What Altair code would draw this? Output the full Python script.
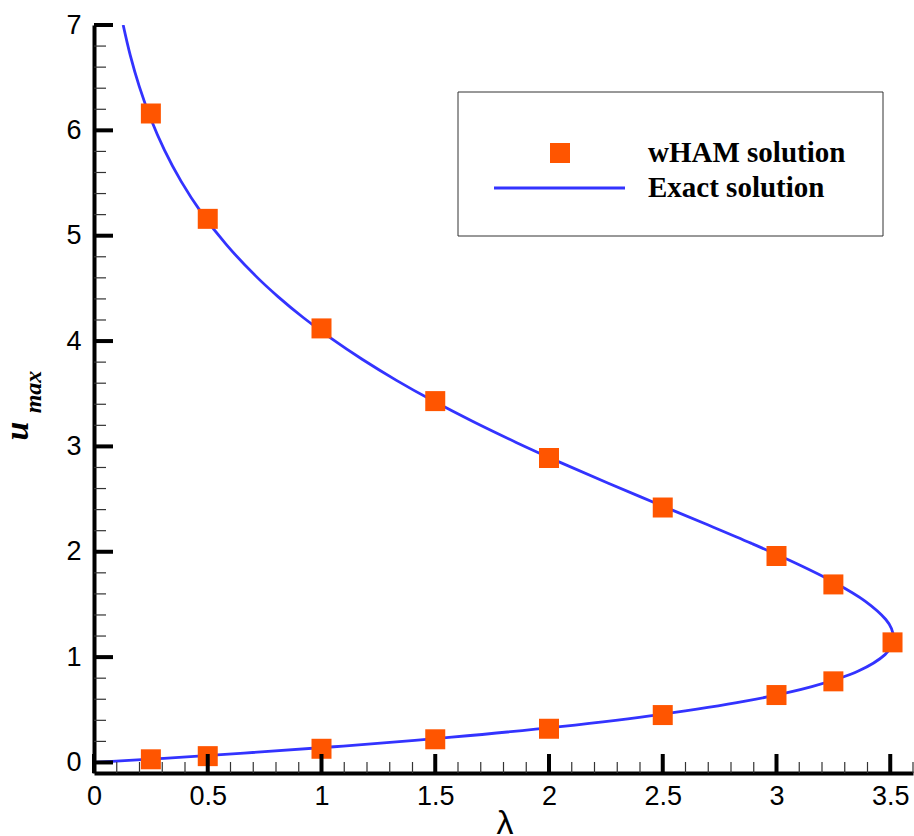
import altair as alt
import pandas as pd

# ---- data ----
# wHAM solution (squares)
wham_lambda = [0.25, 0.5, 1.0, 1.5, 2.0, 2.5, 3.0, 3.25, 3.51,
               3.25, 3.0, 2.5, 2.0, 1.5, 1.0, 0.5, 0.25]
wham_umax = [6.16, 5.16, 4.12, 3.43, 2.89, 2.42, 1.96, 1.69, 1.14,
             0.77, 0.64, 0.45, 0.32, 0.22, 0.13, 0.06, 0.03]

# Exact solution curve (lower branch -> turning point -> upper branch)
exact_lambda = [0.0, 0.0792, 0.3075, 0.6589, 1.0952, 1.5729, 2.0493, 2.4882,
                2.8624, 3.1552, 3.3598, 3.4771, 3.5049, 3.5138, 3.5052, 3.4805,
                3.3893, 3.2527, 3.0828, 2.8902, 2.6842, 2.4724, 2.2608, 2.0541,
                1.8557, 1.6679, 1.4922, 1.3296, 1.1803, 1.0442, 0.9209, 0.8099,
                0.7104, 0.5809, 0.4728, 0.3831, 0.3092, 0.2486, 0.1993, 0.1592,
                0.1282]
exact_umax = [0.0, 0.0100, 0.0397, 0.0887, 0.1559, 0.2402, 0.3403, 0.4545,
              0.5815, 0.7197, 0.8676, 1.0239, 1.1048, 1.1874, 1.2715, 1.3570,
              1.5318, 1.7109, 1.8936, 2.0793, 2.2676, 2.4580, 2.6500, 2.8435,
              3.0381, 3.2337, 3.4301, 3.6271, 3.8247, 4.0227, 4.2211, 4.4198,
              4.6187, 4.9174, 5.2164, 5.5157, 5.8152, 6.1148, 6.4146, 6.7143,
              7.0000]

# axis tick values
x_major = [0, 0.5, 1, 1.5, 2, 2.5, 3, 3.5]
x_minor = [round(i * 0.1, 1) for i in range(1, 37) if i % 5 != 0]
y_major = [0, 1, 2, 3, 4, 5, 6, 7]
y_minor = [round(i * 0.2, 1) for i in range(1, 35) if i % 5 != 0]

legend_labels = ["wHAM solution", "Exact solution"]

# ---- styling ----
W, H = 819, 748
ORANGE = "#FF5500"
BLUE = "#3333FF"

xscale = alt.Scale(domain=[0, 3.6], nice=False, zero=False)
yscale = alt.Scale(domain=[-0.1, 7], nice=False, zero=False)

xax = alt.Axis(values=x_major, format="~g", title=None, grid=False,
               ticks=False, tickSize=0, domainColor="black", domainWidth=4,
               labelFont="Liberation Sans", labelFontSize=27, labelColor="black",
               labelPadding=10, labelFlush=False, labelOverlap=False)
yax = alt.Axis(values=y_major, format="d", title=None, grid=False,
               ticks=False, tickSize=0, domainColor="black", domainWidth=4,
               labelFont="Liberation Sans", labelFontSize=27, labelColor="black",
               labelPadding=13, labelFlush=False, labelOverlap=False)

exact_df = pd.DataFrame({"lam": exact_lambda, "u": exact_umax,
                         "i": list(range(len(exact_lambda)))})
wham_df = pd.DataFrame({"lam": wham_lambda, "u": wham_umax})

X = alt.X("lam:Q", scale=xscale, axis=xax)
Y = alt.Y("u:Q", scale=yscale, axis=yax)

exact_line = alt.Chart(exact_df).mark_line(
    color=BLUE, strokeWidth=2.8, interpolate="catmull-rom", clip=True
).encode(x=X, y=Y, order="i:Q")

wham_pts = alt.Chart(wham_df).mark_square(
    size=400, color=ORANGE, opacity=1, filled=True
).encode(x=X, y=Y)

# inward ticks (drawn on top of the data, as in the reference)
xmaj = alt.Chart(pd.DataFrame({"lam": x_major})).mark_rule(
    color="black", strokeWidth=4
).encode(x=X, y=alt.value(H), y2=alt.value(H - 19))
xmin = alt.Chart(pd.DataFrame({"lam": x_minor})).mark_rule(
    color="#333333", strokeWidth=1.2
).encode(x=X, y=alt.value(H), y2=alt.value(H - 11))
ymaj = alt.Chart(pd.DataFrame({"u": y_major})).mark_rule(
    color="black", strokeWidth=4
).encode(y=Y, x=alt.value(0), x2=alt.value(19))
ymin = alt.Chart(pd.DataFrame({"u": y_minor})).mark_rule(
    color="#333333", strokeWidth=1.2
).encode(y=Y, x=alt.value(0), x2=alt.value(12))

# legend
one = pd.DataFrame({"d": [0]})
leg_box = alt.Chart(one).mark_rect(
    fill="white", stroke="#333333", strokeWidth=1
).encode(x=alt.value(364), x2=alt.value(789), y=alt.value(67), y2=alt.value(211))
leg_sq = alt.Chart(one).mark_square(size=400, color=ORANGE, opacity=1).encode(
    x=alt.value(466), y=alt.value(128))
leg_ln = alt.Chart(one).mark_rule(color=BLUE, strokeWidth=3).encode(
    x=alt.value(400), x2=alt.value(531), y=alt.value(163))
leg_t1 = alt.Chart(one).mark_text(
    text=legend_labels[0], font="Liberation Serif", fontWeight="bold",
    fontSize=29, align="left", baseline="middle", color="black"
).encode(x=alt.value(554), y=alt.value(128))
leg_t2 = alt.Chart(one).mark_text(
    text=legend_labels[1], font="Liberation Serif", fontWeight="bold",
    fontSize=29, align="left", baseline="middle", color="black"
).encode(x=alt.value(554), y=alt.value(163))

# axis titles
ytitle_u = alt.Chart(one).mark_text(
    text="u", font="Liberation Serif", fontWeight="bold", fontStyle="italic",
    fontSize=34, angle=270, align="center", baseline="alphabetic", color="black"
).encode(x=alt.value(-66), y=alt.value(406))
ytitle_sub = alt.Chart(one).mark_text(
    text="max", font="Liberation Serif", fontWeight="bold", fontStyle="italic",
    fontSize=24, angle=270, align="center", baseline="alphabetic", color="black"
).encode(x=alt.value(-53), y=alt.value(367))
xtitle = alt.Chart(one).mark_text(
    text="λ", font="Liberation Sans", fontSize=34, align="center",
    baseline="alphabetic", color="black"
).encode(x=alt.value(411), y=alt.value(809))

chart = alt.layer(
    leg_box, leg_sq, leg_ln, leg_t1, leg_t2,
    exact_line, wham_pts, xmin, xmaj, ymin, ymaj,
    ytitle_u, ytitle_sub, xtitle
).properties(
    width=W, height=H,
    autosize=alt.AutoSizeParams(type="none"),
    padding={"left": 94, "top": 25, "right": 1, "bottom": 63},
    background="white",
).configure_view(strokeWidth=0)

chart.save("out.html", embed_options={"renderer": "svg", "actions": False})
